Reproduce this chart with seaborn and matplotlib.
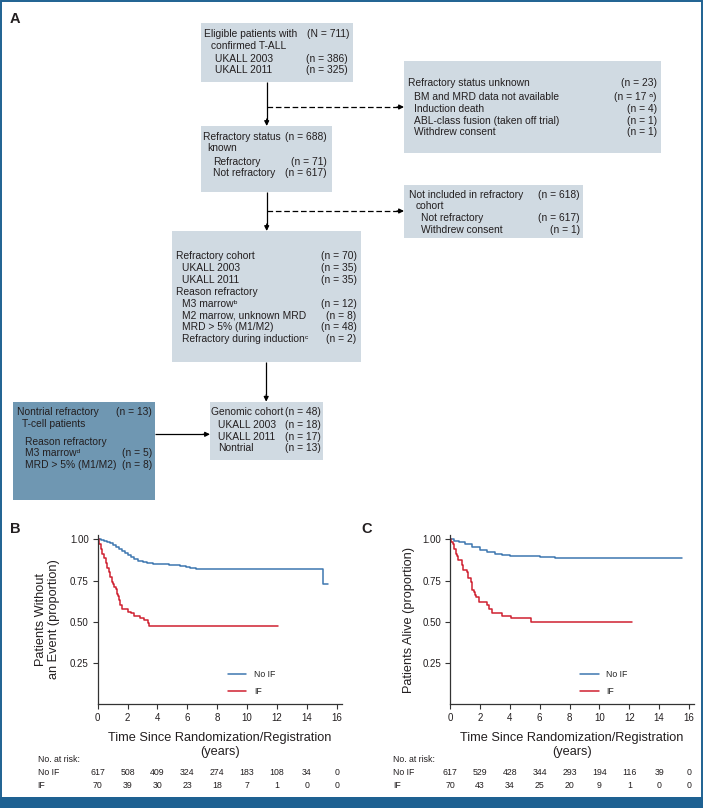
import numpy as np
import pandas as pd
import matplotlib
matplotlib.use("Agg")
import matplotlib.pyplot as plt
import matplotlib.transforms as mtransforms
from matplotlib.patches import Rectangle
from matplotlib.lines import Line2D
import seaborn as sns

# ---------------- data ----------------
groups = ["No IF", "IF"]
risk_times = [0, 2, 4, 6, 8, 10, 12, 14, 16]

# Panel B: event-free survival
efs_noif_t = [0, 0.2, 0.4, 0.6, 0.8, 1.0, 1.2, 1.4, 1.6, 1.8, 2.0, 2.2, 2.4, 2.7, 3.0, 3.3, 3.7, 4.0, 4.8, 5.5, 5.9, 6.2, 6.6, 15.05, 15.4]
efs_noif_s = [1.0, 0.995, 0.99, 0.983, 0.976, 0.967, 0.956, 0.944, 0.93, 0.917, 0.904, 0.892, 0.88, 0.866, 0.86, 0.855, 0.851, 0.848, 0.845, 0.84, 0.834, 0.827, 0.82, 0.728, 0.728]
efs_if_t = [0, 0.12, 0.2, 0.3, 0.42, 0.55, 0.65, 0.75, 0.85, 0.93, 1.0, 1.1, 1.2, 1.3, 1.38, 1.45, 1.52, 1.6, 2.0, 2.2, 2.45, 2.83, 3.1, 3.39, 3.45, 12.1]
efs_if_s = [1.0, 0.971, 0.943, 0.914, 0.886, 0.857, 0.829, 0.8, 0.771, 0.743, 0.729, 0.714, 0.7, 0.671, 0.657, 0.629, 0.6, 0.577, 0.562, 0.551, 0.535, 0.52, 0.51, 0.49, 0.476, 0.476]
risk_efs_noif = [617, 508, 409, 324, 274, 183, 108, 34, 0]
risk_efs_if = [70, 39, 30, 23, 18, 7, 1, 0, 0]

# Panel C: overall survival
os_noif_t = [0, 0.3, 0.6, 1.0, 1.5, 2.0, 2.5, 3.0, 3.5, 4.0, 5.0, 6.0, 7.0, 9.0, 15.5]
os_noif_s = [1.0, 0.993, 0.985, 0.97, 0.952, 0.936, 0.923, 0.913, 0.906, 0.9, 0.897, 0.893, 0.89, 0.888, 0.888]
os_if_t = [0, 0.08, 0.18, 0.28, 0.4, 0.5, 0.56, 0.78, 0.89, 1.12, 1.23, 1.41, 1.5, 1.58, 1.68, 1.75, 1.95, 2.46, 2.62, 2.8, 3.51, 4.06, 5.4, 12.16]
os_if_s = [1.0, 0.986, 0.971, 0.943, 0.914, 0.9, 0.875, 0.845, 0.815, 0.804, 0.764, 0.744, 0.693, 0.678, 0.663, 0.652, 0.622, 0.602, 0.576, 0.555, 0.535, 0.521, 0.5, 0.5]
risk_os_noif = [617, 529, 428, 344, 293, 194, 116, 39, 0]
risk_os_if = [70, 43, 34, 25, 20, 9, 1, 0, 0]

y_ticks = [0.25, 0.50, 0.75, 1.00]
x_ticks = [0, 2, 4, 6, 8, 10, 12, 14, 16]

# ---------------- style ----------------
sns.set_theme(style="white")
BASE = ["Liberation Sans", "DejaVu Sans"]
NARROW = ["Liberation Sans Narrow", "Liberation Sans", "DejaVu Sans"]
plt.rcParams["font.family"] = BASE
TXT = "#231f20"
BLUE_FRAME = "#1e6192"
LIGHT = "#d0dae2"
DARK = "#6f97b2"
C_NOIF = "#3d77b0"
C_IF = "#cf2030"
FS = 7.4
LAB_FS = 9.2

W, H = 703, 808
fig = plt.figure(figsize=(W / 100, H / 100), dpi=100)
ov = fig.add_axes([0, 0, 1, 1], zorder=0)
ov.set_xlim(0, W)
ov.set_ylim(H, 0)
ov.axis("off")

# figure frame
ov.add_patch(Rectangle((0.7, 0.7), W - 1.4, H - 1.4, fill=False, ec=BLUE_FRAME, lw=1.4))
ov.add_patch(Rectangle((0, 797), W, 11, fc=BLUE_FRAME, ec="none"))

# ---------------- panel A flowchart ----------------
ov.text(10, 23, "A", fontsize=10.5, fontweight="bold", color=TXT, va="baseline")

boxes = [
    # x0, y0, x1, y1, fill
    (201, 22.7, 353, 81.7, LIGHT),
    (404, 61, 661, 152.7, LIGHT),
    (201, 126, 331.7, 191.7, LIGHT),
    (404.3, 185, 583.3, 238.3, LIGHT),
    (171.7, 231, 360.7, 362.3, LIGHT),
    (210, 401.7, 322.7, 460, LIGHT),
    (13.3, 401.7, 155.3, 499.5, DARK),
]
for x0, y0, x1, y1, fc in boxes:
    ov.add_patch(Rectangle((x0, y0), x1 - x0, y1 - y0, fc=fc, ec="none"))

lines = [
    # left text, x, y, right text, right x
    ("Eligible patients with", 204, 33.3, "(N = 711)", 349.5),
    ("confirmed T-ALL", 210.8, 45, "", 0),
    ("UKALL 2003", 215, 58.3, "(n = 386)", 347.5),
    ("UKALL 2011", 215, 69.3, "(n = 325)", 347.5),
    ("Refractory status unknown", 408.3, 82.7, "(n = 23)", 656.7),
    ("BM and MRD data not available", 414, 96, "(n = 17 \u1d43)", 656.7),
    ("Induction death", 414, 108.3, "(n = 4)", 656.7),
    ("ABL-class fusion (taken off trial)", 414, 120.7, "(n = 1)", 656.7),
    ("Withdrew consent", 414, 131.7, "(n = 1)", 656.7),
    ("Refractory status", 202.7, 136, "(n = 688)", 326.7),
    ("known", 207.7, 147.3, "", 0),
    ("Refractory", 213.3, 161, "(n = 71)", 326.7),
    ("Not refractory", 213.3, 172.7, "(n = 617)", 326.7),
    ("Not included in refractory", 409.3, 194, "(n = 618)", 580),
    ("cohort", 415.7, 205.7, "", 0),
    ("Not refractory", 420.7, 217.3, "(n = 617)", 580),
    ("Withdrew consent", 420.7, 229, "(n = 1)", 580),
    ("Refractory cohort", 176, 255, "(n = 70)", 356.7),
    ("UKALL 2003", 182, 267.7, "(n = 35)", 356.7),
    ("UKALL 2011", 182, 279.5, "(n = 35)", 356.7),
    ("Reason refractory", 176, 291.7, "", 0),
    ("M3 marrow\u1d47", 181.7, 303.3, "(n = 12)", 356.7),
    ("M2 marrow, unknown MRD", 181.7, 315, "(n = 8)", 356.7),
    ("MRD > 5% (M1/M2)", 181.7, 326.7, "(n = 48)", 356.7),
    ("Refractory during induction\u1d9c", 181.7, 338.3, "(n = 2)", 356.7),
    ("Genomic cohort", 211, 411, "(n = 48)", 321),
    ("UKALL 2003", 217.7, 424.7, "(n = 18)", 321),
    ("UKALL 2011", 217.7, 436, "(n = 17)", 321),
    ("Nontrial", 217.7, 447.7, "(n = 13)", 321),
    ("Nontrial refractory", 16.7, 411, "(n = 13)", 152.3),
    ("T-cell patients", 21.7, 423.3, "", 0),
    ("Reason refractory", 25, 441, "", 0),
    ("M3 marrow\u1d48", 25, 452.7, "(n = 5)", 152.3),
    ("MRD > 5% (M1/M2)", 25, 464, "(n = 8)", 152.3),
]
for lt, lx, ly, rt, rx in lines:
    ov.text(lx, ly + 3.6, lt, fontsize=FS, color=TXT, va="baseline", ha="left")
    if rt:
        ov.text(rx, ly + 3.6, rt, fontsize=FS, color=TXT, va="baseline", ha="right")


def arrow(x0, y0, x1, y1, dashed=False):
    head = 6.5
    dx, dy = x1 - x0, y1 - y0
    L = np.hypot(dx, dy)
    ux, uy = dx / L, dy / L
    xs, ys = x1 - ux * head, y1 - uy * head
    ov.plot([x0, xs], [y0, ys], color="black", lw=0.9,
            ls=(0, (4.5, 2.2)) if dashed else "-", solid_capstyle="butt")
    ov.annotate("", xy=(x1, y1), xytext=(xs - ux * 0.5, ys - uy * 0.5),
                arrowprops=dict(arrowstyle="-|>", color="black", lw=0.9,
                                mutation_scale=7, shrinkA=0, shrinkB=0))


arrow(266.7, 81.7, 266.7, 126)
arrow(266.7, 107, 404, 107, dashed=True)
arrow(266.7, 191.7, 266.7, 231)
arrow(266.7, 211, 404, 211, dashed=True)
arrow(266.2, 362.3, 266.2, 401.7)
arrow(155.3, 434.3, 210, 434.3)

# ---------------- KM panels ----------------
def km_panel(left_px, t_noif, s_noif, t_if, s_if, risk_noif, risk_if, ylabel, ylabel_x, label_x, panel_label, plabel_x):
    ax = fig.add_axes([left_px / W, (H - 704) / H, 244 / W, 169 / H], zorder=2)
    ax.patch.set_alpha(0)
    df = pd.concat([
        pd.DataFrame({"time": t_noif, "surv": s_noif, "group": groups[0]}),
        pd.DataFrame({"time": t_if, "surv": s_if, "group": groups[1]}),
    ], ignore_index=True)
    sns.lineplot(data=df, x="time", y="surv", hue="group", hue_order=groups,
                 palette={groups[0]: C_NOIF, groups[1]: C_IF},
                 estimator=None, drawstyle="steps-post", linewidth=1.1,
                 legend=False, ax=ax)
    ax.set_xlim(0, 16.33)
    ax.set_ylim(0, 1.027)
    ax.set_xticks(x_ticks)
    ax.set_xticklabels([str(v) for v in x_ticks])
    ax.set_yticks(y_ticks)
    ax.set_yticklabels([f"{v:.2f}" for v in y_ticks])
    for sp in ["top", "right"]:
        ax.spines[sp].set_visible(False)
    for sp in ["left", "bottom"]:
        ax.spines[sp].set_color("#333333")
        ax.spines[sp].set_linewidth(0.9)
    ax.tick_params(axis="both", direction="out", length=3.5, width=0.8, color="#333333",
                   labelsize=7, labelcolor=TXT, pad=3, bottom=True, left=True)
    ax.set_xlabel("Time Since Randomization/Registration\n(years)", fontsize=LAB_FS,
                  family=NARROW, color=TXT, linespacing=1.2)
    ax.xaxis.set_label_coords(0.5, (704 - 732) / 169)
    ax.set_ylabel(ylabel, fontsize=LAB_FS, family=NARROW, color=TXT, linespacing=1.15)
    ax.yaxis.set_label_coords((ylabel_x - left_px) / 244, 0.5)
    handles = [Line2D([], [], color=C_NOIF, lw=1.1), Line2D([], [], color=C_IF, lw=1.1)]
    ax.legend(handles, groups, loc="upper left", bbox_to_anchor=(0.534, (704 - 670) / 169),
              frameon=False, fontsize=6.3, handlelength=2.1, handletextpad=0.85,
              labelspacing=0.95, borderpad=0, borderaxespad=0)
    # number at risk table
    tr = mtransforms.blended_transform_factory(ax.transData, ov.transData)
    ov.text(label_x, 762, "No. at risk:", fontsize=6.3, color=TXT, va="baseline")
    ov.text(label_x, 775, groups[0], fontsize=6.3, color=TXT, va="baseline")
    ov.text(label_x, 788, groups[1], fontsize=6.3, color=TXT, va="baseline")
    for t, a, b in zip(risk_times, risk_noif, risk_if):
        ov.text(t, 775, str(a), transform=tr, fontsize=6.3, color=TXT, ha="center", va="baseline")
        ov.text(t, 788, str(b), transform=tr, fontsize=6.3, color=TXT, ha="center", va="baseline")
    ov.text(plabel_x, 533, panel_label, fontsize=10.5, fontweight="bold", color=TXT, va="baseline")
    return ax


km_panel(97.7, efs_noif_t, efs_noif_s, efs_if_t, efs_if_s, risk_efs_noif, risk_efs_if,
         "Patients Without\nan Event (proportion)", 60.5, 37.7, "B", 10)
km_panel(450, os_noif_t, os_noif_s, os_if_t, os_if_s, risk_os_noif, risk_os_if,
         "Patients Alive (proportion)", 415, 393, "C", 361.7)

fig.savefig("out.png", dpi=100)
